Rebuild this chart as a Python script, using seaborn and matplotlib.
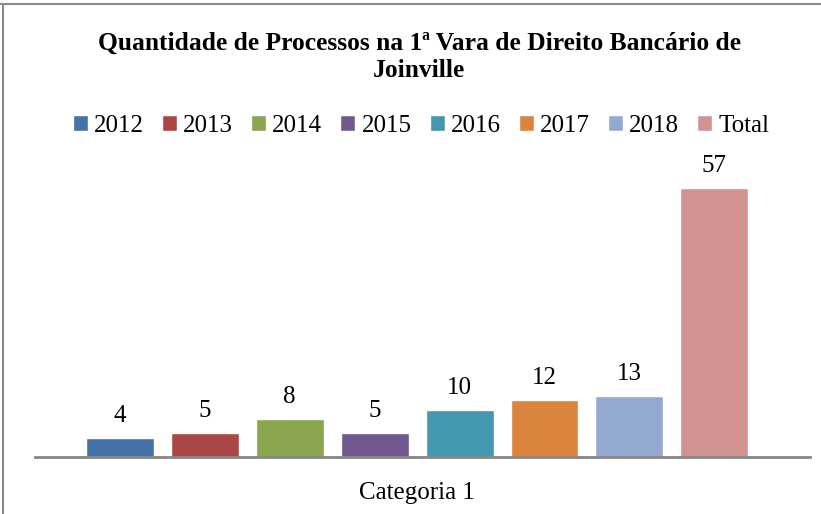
import pandas as pd
import matplotlib.pyplot as plt
import seaborn as sns
from matplotlib.lines import Line2D

plt.switch_backend('Agg')

# Data
categoria = ['Categoria 1']
anos = ['2012', '2013', '2014', '2015', '2016', '2017', '2018', 'Total']
quantidades = [4, 5, 8, 5, 10, 12, 13, 57]
cores = ['#4572A7', '#AA4643', '#89A54E', '#71588F',
         '#4198AF', '#DB843D', '#93A9CF', '#D19392']
titulo = 'Quantidade de Processos na 1ª Vara de Direito Bancário de\nJoinville'

df = pd.DataFrame({
    'categoria': categoria * len(anos),
    'ano': anos,
    'quantidade': quantidades,
})

sns.set_style('white')
plt.rcParams['font.family'] = ['Liberation Serif', 'DejaVu Serif']
plt.rcParams['text.color'] = 'black'
plt.rcParams['xtick.color'] = 'black'

W, H = 821, 514
fig = plt.figure(figsize=(W / 100, H / 100), dpi=100)
ax = fig.add_axes([35 / W, (H - 457) / H, 775 / W, 283 / H])

sns.barplot(data=df, x='categoria', y='quantidade', hue='ano',
            palette=cores, saturation=1, width=0.877, gap=0.2,
            ax=ax, legend=True)

for cont in ax.containers:
    ax.bar_label(cont, padding=8, fontsize=18, color='black')

ax.set_ylim(0, 60)
ax.set_xlim(-0.493, 0.507)
ax.set_xlabel('')
ax.set_ylabel('')
ax.set_yticks([])
ax.tick_params(axis='x', length=0, pad=18, labelsize=18, labelcolor='black')
for s in ['left', 'right', 'top']:
    ax.spines[s].set_visible(False)
ax.spines['bottom'].set_color('#868686')
ax.spines['bottom'].set_linewidth(2)

handles, labels = ax.get_legend_handles_labels()
ax.get_legend().remove()
leg = fig.legend(handles, labels, loc='center', bbox_to_anchor=(421 / W, 1 - 126 / H),
                 ncol=8, frameon=False, fontsize=18, handlelength=0.6,
                 handleheight=0.6, handletextpad=0.25, columnspacing=0.72,
                 borderaxespad=0)
for t in leg.get_texts():
    t.set_color('black')

fig.text(419 / W, 1 - 57 / H, titulo, ha='center', va='center', color='black',
         fontsize=18.4, fontweight='bold', linespacing=1.25)

# outer frame (left and top edges visible in the reference)
fig.add_artist(Line2D([3 / W, 3 / W], [0, 1 - 4 / H], transform=fig.transFigure,
                      color='#8a8a8a', lw=1.5))
fig.add_artist(Line2D([0, 1], [1 - 4 / H, 1 - 4 / H], transform=fig.transFigure,
                      color='#8a8a8a', lw=1.5))

fig.savefig('out.png', dpi=100)
plt.close(fig)
